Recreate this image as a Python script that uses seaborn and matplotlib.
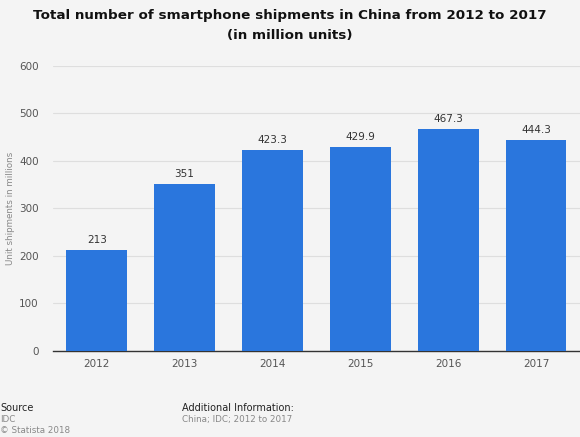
import matplotlib
matplotlib.use("Agg")
import matplotlib.pyplot as plt
import seaborn as sns
import pandas as pd

years = ["2012", "2013", "2014", "2015", "2016", "2017"]
shipments = [213, 351, 423.3, 429.9, 467.3, 444.3]
value_labels = ["213", "351", "423.3", "429.9", "467.3", "444.3"]
yticks = [0, 100, 200, 300, 400, 500, 600]

bg = "#f4f4f4"
sns.set_theme(style="white")
plt.rcParams['font.family'] = ['DejaVu Sans']

fig = plt.figure(figsize=(5.8, 4.37), dpi=100, facecolor=bg)
ax = fig.add_axes([0.091, 0.197, 0.909, 0.652])
ax.set_facecolor(bg)

df = pd.DataFrame({"year": years, "value": shipments})
sns.barplot(data=df, x="year", y="value", color="#2a76dd", saturation=1,
            width=0.69, ax=ax, zorder=3, linewidth=0, edgecolor="none")

ax.set_ylim(0, 600)
ax.set_yticks(yticks)
ax.set_yticklabels([str(t) for t in yticks], fontsize=7.5, color="#555555")
ax.tick_params(axis="x", labelsize=7.5, colors="#555555", length=0, pad=6)
ax.tick_params(axis="y", length=0, pad=10)
ax.yaxis.grid(True, color="#dedede", linewidth=0.8, zorder=0)
ax.set_axisbelow(True)
for s in ["top", "right", "left"]:
    ax.spines[s].set_visible(False)
ax.spines["bottom"].set_color("#333333")
ax.spines["bottom"].set_linewidth(1.0)
ax.set_xlabel("")
ax.set_ylabel("Unit shipments in millions", fontsize=6.3, color="#888888", labelpad=4)
ax.yaxis.set_label_coords(-0.072, 0.5)

for p, lab in zip(ax.patches, value_labels):
    ax.annotate(lab, (p.get_x() + p.get_width() / 2, p.get_height()),
                xytext=(0, 3.5), textcoords="offset points", ha="center", va="bottom",
                fontsize=7.5, color="#333333")

fig.text(0.5, 0.979, "Total number of smartphone shipments in China from 2012 to 2017\n(in million units)",
         ha="center", va="top", fontsize=9.7, fontweight="bold", color="#111111", linespacing=1.7)

fig.text(0.0, 0.066, "Source", fontsize=7, color="#222222", ha="left", va="center")
fig.text(0.0, 0.041, "IDC", fontsize=6.3, color="#888888", ha="left", va="center")
fig.text(0.0, 0.016, "© Statista 2018", fontsize=6.3, color="#888888", ha="left", va="center")
fig.text(0.314, 0.066, "Additional Information:", fontsize=7, color="#222222", ha="left", va="center")
fig.text(0.314, 0.041, "China; IDC; 2012 to 2017", fontsize=6.3, color="#888888", ha="left", va="center")

fig.savefig("out.png", dpi=100, facecolor=bg)
